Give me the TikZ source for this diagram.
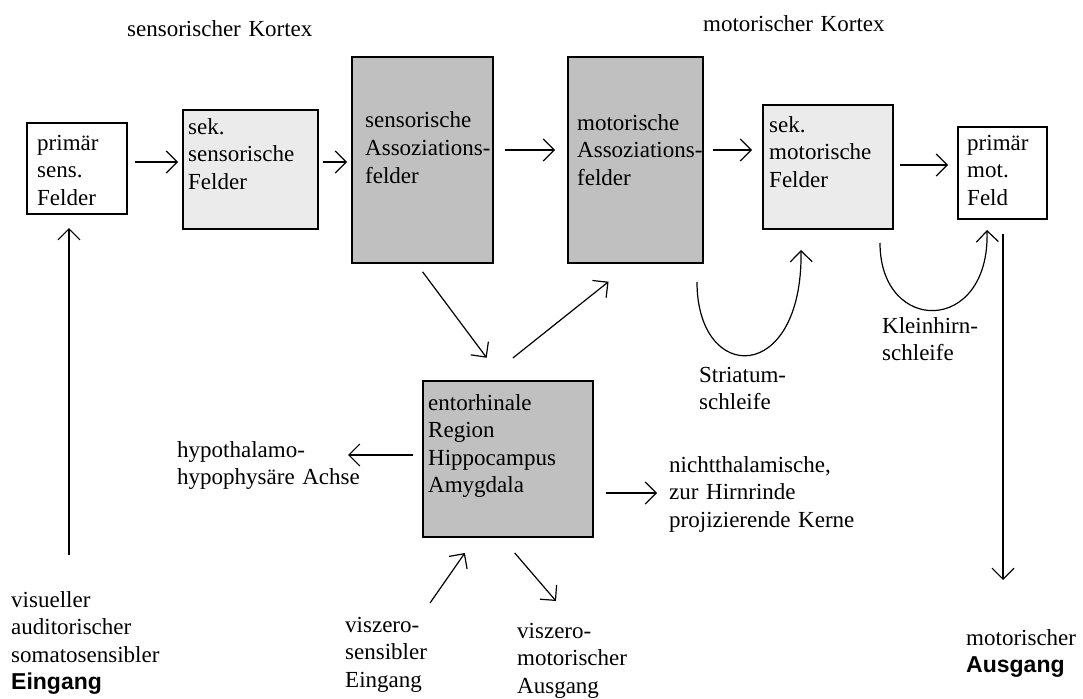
\documentclass[tikz,border=0pt]{standalone}
\usepackage{fontspec}
\setmainfont{Liberation Serif}
\newfontfamily\fettsans{Liberation Sans}
\usetikzlibrary{arrows.meta}
\definecolor{hellgrau}{HTML}{EBEBEB}
\definecolor{dunkelgrau}{HTML}{C0C0C0}
\tikzset{
  feld/.style={draw,line width=1.6pt,inner sep=0pt,outer sep=0pt,anchor=north west},
  weiss/.style={feld,fill=white},
  hell/.style={feld,fill=hellgrau},
  dunkel/.style={feld,fill=dunkelgrau},
  txt/.style={anchor=base west,inner sep=0pt,align=left,text width=240pt},
  pfeil/.style={line width=1.2pt,-{Straight Barb[length=11pt,width=22pt]}},
}
\begin{document}
\begin{tikzpicture}[x=1pt,y=-1pt,font=\fontsize{23}{27.5}\selectfont]
  \useasboundingbox (0,0) rectangle (1083,698);
  % Felder
  \node[weiss,minimum width=100,minimum height=91] (psens) at (27,123) {};
  \node[hell,minimum width=135,minimum height=119] (ssens) at (183,110) {};
  \node[dunkel,minimum width=141,minimum height=206] (sassoz) at (352,57) {};
  \node[dunkel,minimum width=135,minimum height=206] (massoz) at (568,57) {};
  \node[hell,minimum width=130,minimum height=124] (smot) at (763,105) {};
  \node[weiss,minimum width=89,minimum height=92] (pmot) at (958,127) {};
  \node[dunkel,minimum width=170,minimum height=156] (ento) at (423,381) {};
  \node[txt] at (37,150) {primär\\sens.\\Felder};
  \node[txt] at (188,134) {sek.\\sensorische\\Felder};
  \node[txt] at (365,128) {sensorische\\Assoziations-\\felder};
  \node[txt] at (577,130) {motorische\\Assoziations-\\felder};
  \node[txt] at (769,132) {sek.\\motorische\\Felder};
  \node[txt] at (967,150) {primär\\mot.\\Feld};
  \node[txt] at (428,410) {entorhinale\\Region\\Hippocampus\\Amygdala};
  % Beschriftungen
  \node[txt] at (127,37) {sensorischer Kortex};
  \node[txt] at (703,32) {motorischer Kortex};
  \node[txt] at (177,457) {hypothalamo-\\hypophysäre Achse};
  \node[txt] at (669,472) {nichtthalamische,\\zur Hirnrinde\\projizierende Kerne};
  \node[txt] at (699,382) {Striatum-\\schleife};
  \node[txt] at (882,333) {Kleinhirn-\\schleife};
  \node[txt] at (11,607) {visueller\\auditorischer\\somatosensibler\\{\fettsans\bfseries Eingang}};
  \node[txt] at (345,632) {viszero-\\sensibler\\Eingang};
  \node[txt] at (517,638) {viszero-\\motorischer\\Ausgang};
  \node[txt] at (966,645) {motorischer\\{\fettsans\bfseries Ausgang}};
  % freie Enden
  \coordinate (einA) at (69,555);
  \coordinate (ausE) at (1003,580);
  \coordinate (hypoE) at (348,455);
  \coordinate (kernE) at (657,493);
  \coordinate (vsA) at (430,603);
  \coordinate (vmE) at (556,601);
  \coordinate (striA) at (697,282);
  \coordinate (striE) at (801,250);
  \coordinate (kleinA) at (880,243);
  \coordinate (kleinE) at (987,230);
  % obere Reihe
  \draw[pfeil,shorten <=8pt,shorten >=5pt] ([yshift=6.5]psens.east) -- ([yshift=7.5]ssens.west);
  \draw[pfeil,shorten <=5pt,shorten >=5pt] ([yshift=7.5]ssens.east) -- ([yshift=-2]sassoz.west);
  \draw[pfeil,shorten <=12pt,shorten >=13pt] ([yshift=10]sassoz.east) -- ([yshift=10]massoz.west);
  \draw[pfeil,shorten <=10pt,shorten >=11pt] ([yshift=10]massoz.east) -- ([yshift=17]smot.west);
  \draw[pfeil,shorten <=7pt,shorten >=10pt] ([yshift=2]smot.east) -- ([yshift=8]pmot.west);
  % Ein- und Ausgang
  \draw[pfeil,shorten >=14pt] (einA) -- ([xshift=-8]psens.south);
  \draw[pfeil,shorten <=15pt] ([xshift=0.5]pmot.south) -- (ausE);
  % ueber die entorhinale Region
  \draw[pfeil,shorten <=11pt,shorten >=29pt] ([xshift=-6.5]sassoz.south) -- ([xshift=-4]ento.north);
  \draw[pfeil,shorten <=37pt,shorten >=30pt] ([xshift=-24]ento.north) -- ([xshift=-3.5]massoz.south);
  \draw[pfeil,shorten <=10pt] ([yshift=4]ento.west) -- (hypoE);
  \draw[pfeil,shorten <=13pt] ([yshift=-34]ento.east) -- (kernE);
  \draw[pfeil,shorten >=19.5pt] (vsA) -- ([xshift=-32]ento.south);
  \draw[pfeil,shorten <=21pt] ([xshift=-7]ento.south) -- (vmE);
  % Schleifen
  \draw[pfeil] (striA) .. controls (697,385) and (803,385) .. (striE);
  \draw[pfeil] (kleinA) .. controls (880,335) and (990,335) .. (kleinE);
\end{tikzpicture}
\end{document}
